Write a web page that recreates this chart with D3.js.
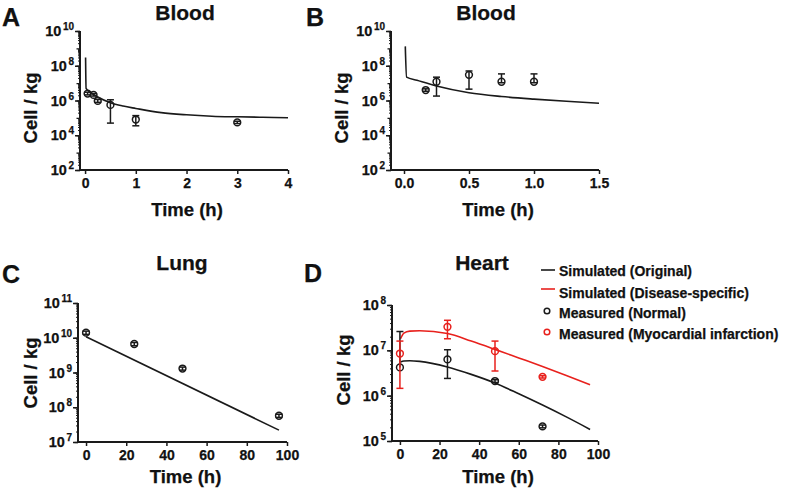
<!DOCTYPE html>
<html><head><meta charset="utf-8">
<script src="https://cdn.jsdelivr.net/npm/d3@7"></script>
<style>
body{margin:0;background:#fff}
svg{display:block}
text{font-family:"Liberation Sans",Arial,Helvetica,sans-serif;font-weight:bold;fill:#111;stroke:#111;stroke-width:0.25px}
</style>
</head><body>
<svg id="chart" width="787" height="495"></svg>
<script>
// ---------- Panel A: Blood ----------
const simA_t = [0.01, 0.02, 0.1, 0.25, 0.5, 0.75, 1, 1.5, 2, 2.5, 3, 3.5, 4];
const simA_v = [3e8, 5e6, 3e6, 1.6e6, 7.5e5, 4.8e5, 3.5e5, 2e5, 1.5e5, 1.25e5, 1.15e5, 1.08e5, 1.02e5];
const measA_t = [0.05, 0.167, 0.25, 0.5, 1, 3];
const measA_v = [2.5e6, 2.1e6, 9.5e5, 5.6e5, 8e4, 5.5e4];
const measA_lo = [2.1e6, 1.8e6, 7.8e5, 5e4, 3.5e4, 4.7e4];
const measA_hi = [3e6, 2.5e6, 1.15e6, 1.1e6, 1.35e5, 6.4e4];
const xTicksA = [0, 1, 2, 3, 4];
const yTicksA = [1e2, 1e4, 1e6, 1e8, 1e10];

// ---------- Panel B: Blood ----------
const simB_t = [0.01, 0.02, 0.1, 0.25, 0.5, 0.75, 1, 1.25, 1.5];
const simB_v = [1.3e9, 2.2e7, 1.45e7, 6.8e6, 2.8e6, 1.7e6, 1.2e6, 9e5, 7e5];
const measB_t = [0.167, 0.25, 0.5, 0.75, 1.0];
const measB_v = [4e6, 1.2e7, 3e7, 1.2e7, 1.2e7];
const measB_lo = [3.4e6, 1.8e6, 4.5e6, 1.05e7, 1.05e7];
const measB_hi = [4.7e6, 2.2e7, 5e7, 3.4e7, 3.4e7];
const xTicksB = [0, 0.5, 1.0, 1.5];
const yTicksB = [1e2, 1e4, 1e6, 1e8, 1e10];

// ---------- Panel C: Lung ----------
const simC_t = [0, 96];
const simC_v = [1.07e10, 2.2e7];
const measC_t = [0, 24, 48, 96];
const measC_v = [1.4e10, 6.6e9, 1.3e9, 5.7e7];
const measC_lo = [1.25e10, 5.9e9, 1.17e9, 5.1e7];
const measC_hi = [1.55e10, 7.3e9, 1.43e9, 6.3e7];
const xTicksC = [0, 20, 40, 60, 80, 100];
const yTicksC = [1e7, 1e8, 1e9, 1e10, 1e11];

// ---------- Panel D: Heart ----------
const simD_t = [0.3, 2, 5, 10, 24, 36, 48, 60, 72, 84, 96];
const simD_orig = [5.5e6, 5.8e6, 5.9e6, 5.7e6, 4.3e6, 2.95e6, 1.9e6, 1.1e6, 6.2e5, 3.4e5, 1.8e5];
const simD_dis = [1.8e7, 2.4e7, 2.65e7, 2.7e7, 2.35e7, 1.6e7, 1.05e7, 6.8e6, 4.4e6, 2.8e6, 1.75e6];
const measD_t = [0, 24, 48, 72];
const measD_norm = [4.2e6, 6.3e6, 2.1e6, 2.1e5];
const measD_norm_lo = [4.2e6, 2.4e6, 1.95e6, 1.95e5];
const measD_norm_hi = [2.6e7, 1.03e7, 2.25e6, 2.25e5];
const measD_mi = [8.5e6, 3.3e7, 9.6e6, 2.6e6];
const measD_mi_lo = [1.45e6, 1.8e7, 3.5e6, 2.45e6];
const measD_mi_hi = [1.6e7, 4.6e7, 1.6e7, 2.75e6];
const xTicksD = [0, 20, 40, 60, 80, 100];
const yTicksD = [1e5, 1e6, 1e7, 1e8];

const legendLabels = ["Simulated  (Original)", "Simulated (Disease-specific)", "Measured (Normal)", "Measured (Myocardial  infarction)"];
const BLACK = "#1a1a1a", RED = "#e8211d";

const svg = d3.select("#chart");

function panel(cfg) {
  const g = svg.append("g");
  const x = d3.scaleLinear().domain(cfg.xDomain).range(cfg.xRange);
  const y = d3.scaleLog().domain(cfg.yDomain).range(cfg.yRange);
  const x0 = cfg.xRange[0], yb = cfg.yRange[0];

  // minor y ticks
  const minors = [];
  const lo = Math.round(Math.log10(cfg.yDomain[0])), hi = Math.round(Math.log10(cfg.yDomain[1]));
  for (let e = lo; e < hi; e++) for (let m = 2; m <= 9; m++) minors.push(m * Math.pow(10, e));
  const decs = [];
  for (let e = lo; e <= hi; e++) decs.push(Math.pow(10, e));
  const mAx = g.append("g").attr("transform", `translate(${x0},0)`)
    .call(d3.axisLeft(y).tickValues(minors).tickSize(2).tickFormat(""));
  mAx.select(".domain").remove();
  mAx.selectAll("line").attr("stroke", BLACK).attr("stroke-width", 1);
  const dAx = g.append("g").attr("transform", `translate(${x0},0)`)
    .call(d3.axisLeft(y).tickValues(decs).tickSize(3.5).tickFormat(""));
  dAx.select(".domain").remove();
  dAx.selectAll("line").attr("stroke", BLACK).attr("stroke-width", 1.3);

  const yAx = g.append("g").attr("transform", `translate(${x0},0)`)
    .call(d3.axisLeft(y).tickValues(cfg.yTicks).tickSize(5).tickFormat(""));
  yAx.select(".domain").remove();
  yAx.selectAll("line").attr("stroke", BLACK).attr("stroke-width", 1.5);
  // superscript labels
  cfg.yTicks.forEach(v => {
    const t = g.append("text").attr("x", x0 - 6).attr("y", y(v) + 5)
      .attr("text-anchor", "end").style("font-size", "14.5px");
    t.append("tspan").text("10");
    t.append("tspan").attr("dy", -6).attr("dx", 1.5).style("font-size", "10px")
      .text(Math.round(Math.log10(v)));
  });

  const xAx = g.append("g").attr("transform", `translate(0,${yb})`)
    .call(d3.axisBottom(x).tickValues(cfg.xTicks).tickSize(4).tickPadding(4)
      .tickFormat(cfg.xFormat || d3.format("d")));
  xAx.select(".domain").remove();
  xAx.selectAll("line").attr("stroke", BLACK).attr("stroke-width", 1.5);
  xAx.selectAll("text").style("font-size", "14px").style("font-family", null)
    .attr("fill", "#111");

  // axis lines
  g.append("line").attr("x1", x0).attr("x2", x0).attr("y1", cfg.yRange[1]).attr("y2", yb + 1)
    .attr("stroke", BLACK).attr("stroke-width", 2);
  g.append("line").attr("x1", x0 - 1).attr("x2", cfg.xRange[1]).attr("y1", yb).attr("y2", yb)
    .attr("stroke", BLACK).attr("stroke-width", 2);

  // titles
  g.append("text").attr("x", cfg.titleX).attr("y", cfg.titleY).attr("text-anchor", "middle")
    .style("font-size", "21px").text(cfg.title);
  g.append("text").attr("x", cfg.letterX).attr("y", cfg.letterY)
    .style("font-size", "25px").text(cfg.letter);
  g.append("text").attr("x", (cfg.xRange[0] + cfg.xRange[1]) / 2 + 3).attr("y", cfg.xTitleY)
    .attr("text-anchor", "middle").style("font-size", "18.5px").text("Time (h)");
  g.append("text").attr("transform", `translate(${cfg.yTitleX},${cfg.yTitleY}) rotate(-90)`)
    .attr("text-anchor", "middle").style("font-size", "18.5px").text("Cell / kg");

  const line = d3.line().x(d => x(d[0])).y(d => y(d[1])).curve(d3.curveMonotoneX);
  cfg.sims.forEach(s => {
    g.append("path").datum(d3.zip(s.t, s.v)).attr("d", line)
      .attr("fill", "none").attr("stroke", s.color).attr("stroke-width", 1.6);
  });
  cfg.meas.forEach(m => {
    const cap = m.cap || 3.5;
    m.t.forEach((t, i) => {
      const cx = x(t);
      g.append("line").attr("x1", cx).attr("x2", cx).attr("y1", y(m.lo[i])).attr("y2", y(m.hi[i]))
        .attr("stroke", m.color).attr("stroke-width", 1.5);
      [m.lo[i], m.hi[i]].forEach(b => {
        if (b === m.v[i]) return;
        g.append("line").attr("x1", cx - cap).attr("x2", cx + cap).attr("y1", y(b)).attr("y2", y(b))
          .attr("stroke", m.color).attr("stroke-width", 1.5);
      });
      g.append("circle").attr("cx", cx).attr("cy", y(m.v[i])).attr("r", 3.4)
        .attr("fill", "none").attr("stroke", m.color).attr("stroke-width", 1.5);
    });
  });
}

panel({
  letter: "A", letterX: 2, letterY: 26, title: "Blood", titleX: 185, titleY: 20,
  xDomain: [-0.1, 4], xRange: [80, 288], yDomain: [1e2, 1e10], yRange: [170, 31],
  xTicks: xTicksA, yTicks: yTicksA, xTitleY: 216, yTitleX: 37, yTitleY: 108,
  sims: [{ t: simA_t, v: simA_v, color: BLACK }],
  meas: [{ t: measA_t, v: measA_v, lo: measA_lo, hi: measA_hi, color: BLACK }]
});
panel({
  letter: "B", letterX: 306, letterY: 26, title: "Blood", titleX: 486, titleY: 20,
  xDomain: [-0.1, 1.5], xRange: [391, 599], yDomain: [1e2, 1e10], yRange: [170, 31],
  xTicks: xTicksB, yTicks: yTicksB, xFormat: d3.format(".1f"), xTitleY: 216, yTitleX: 348, yTitleY: 108,
  sims: [{ t: simB_t, v: simB_v, color: BLACK }],
  meas: [{ t: measB_t, v: measB_v, lo: measB_lo, hi: measB_hi, color: BLACK }]
});
panel({
  letter: "C", letterX: 2, letterY: 283, title: "Lung", titleX: 182, titleY: 270,
  xDomain: [-4, 100], xRange: [78, 287], yDomain: [1e7, 1e11], yRange: [442, 303],
  xTicks: xTicksC, yTicks: yTicksC, xTitleY: 483, yTitleX: 37, yTitleY: 373,
  sims: [{ t: simC_t, v: simC_v, color: BLACK }],
  meas: [{ t: measC_t, v: measC_v, lo: measC_lo, hi: measC_hi, color: BLACK }]
});
panel({
  letter: "D", letterX: 304, letterY: 282, title: "Heart", titleX: 482, titleY: 270,
  xDomain: [-4, 100], xRange: [392, 598], yDomain: [1e5, 1e8], yRange: [441, 305],
  xTicks: xTicksD, yTicks: yTicksD, xTitleY: 483, yTitleX: 350, yTitleY: 370,
  sims: [{ t: simD_t, v: simD_orig, color: BLACK }, { t: simD_t, v: simD_dis, color: RED }],
  meas: [
    { t: measD_t, v: measD_norm, lo: measD_norm_lo, hi: measD_norm_hi, color: BLACK },
    { t: measD_t, v: measD_mi, lo: measD_mi_lo, hi: measD_mi_hi, color: RED }
  ]
});

// legend
const lg = svg.append("g");
const legendRows = [
  { y: 271, kind: "line", color: BLACK },
  { y: 293, kind: "line", color: RED },
  { y: 313, kind: "dot", color: BLACK },
  { y: 334, kind: "dot", color: RED }
];
legendRows.forEach((r, i) => {
  if (r.kind === "line") {
    lg.append("line").attr("x1", 541).attr("x2", 555).attr("y1", r.y - (i === 1 ? 4 : 1)).attr("y2", r.y - (i === 1 ? 4 : 1))
      .attr("stroke", r.color).attr("stroke-width", 1.6);
  } else {
    lg.append("circle").attr("cx", 547).attr("cy", r.y - 2).attr("r", 2.8)
      .attr("fill", "none").attr("stroke", r.color).attr("stroke-width", 1.5);
  }
  lg.append("text").attr("x", 559).attr("y", r.y + 5).style("font-size", "14px").text(legendLabels[i]);
});
</script>
</body></html>
